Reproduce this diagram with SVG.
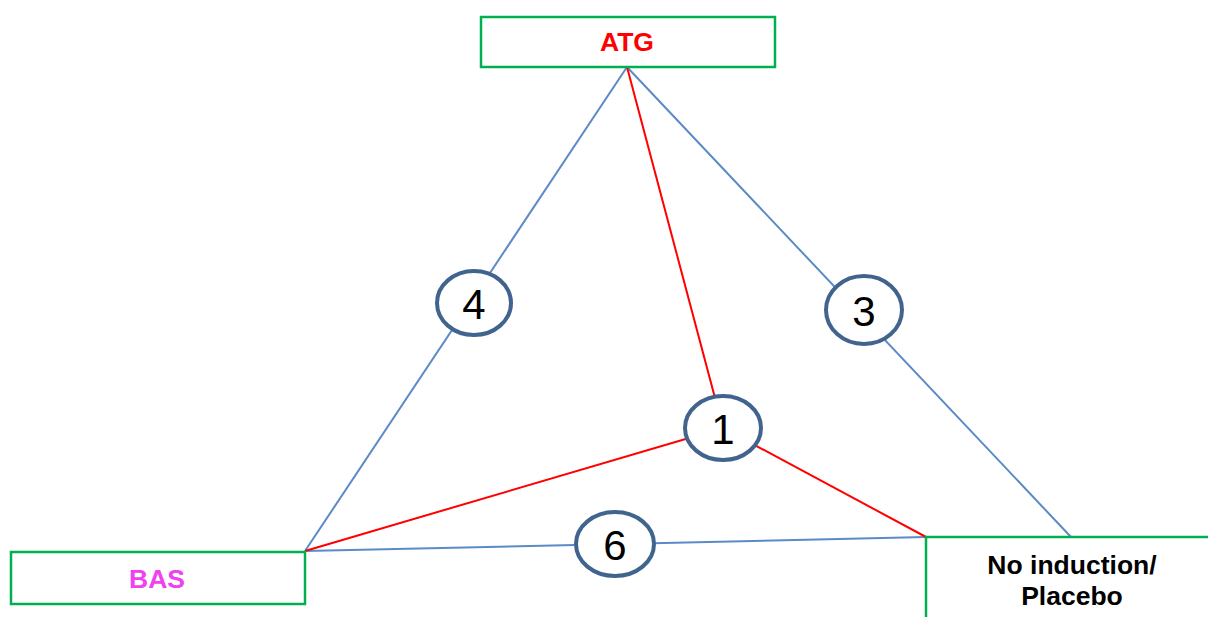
<svg xmlns="http://www.w3.org/2000/svg" width="1208" height="617" viewBox="0 0 1208 617">
<style>
.box{fill:#fff;stroke:#00B050;stroke-width:2.5}
.lbl{font-family:"Liberation Sans",Arial,sans-serif;font-weight:bold;font-size:26.5px;text-anchor:middle}
.blue{stroke:#5B8AC6;stroke-width:2;fill:none}
.red{stroke:#FF0000;stroke-width:2;fill:none}
.circ{fill:#fff;stroke:#41648F;stroke-width:4}
.num{font-family:"Liberation Sans",Arial,sans-serif;font-size:42px;text-anchor:middle;fill:#000}
</style>
<rect width="1208" height="617" fill="#fff"/>
<g id="connectors">
<line class="blue" x1="627" y1="67" x2="305" y2="551"/>
<line class="blue" x1="627" y1="67" x2="1071" y2="537"/>
<line class="blue" x1="305" y1="551" x2="926" y2="537"/>
<line class="red" x1="627" y1="67" x2="723" y2="428"/>
<line class="red" x1="305" y1="551" x2="723" y2="428"/>
<line class="red" x1="926" y1="537" x2="723" y2="428"/>
</g>
<g id="node-atg">
<rect class="box" x="481" y="17" width="294" height="50"/>
<text class="lbl" x="627" y="51" fill="#FF0000">ATG</text>
</g>
<g id="node-bas">
<rect class="box" x="11" y="552" width="294" height="52"/>
<text class="lbl" x="157" y="588" fill="#F040F0">BAS</text>
</g>
<g id="node-noind">
<path class="box" d="M926,617 V537 H1208"/>
<text class="lbl" x="1072" y="574" fill="#000">No induction/</text>
<text class="lbl" x="1072" y="605" fill="#000">Placebo</text>
</g>
<g id="label-4">
<ellipse class="circ" cx="474" cy="303" rx="37" ry="32"/>
<text class="num" x="474" y="319">4</text>
</g>
<g id="label-3">
<ellipse class="circ" cx="864" cy="310" rx="38" ry="34"/>
<text class="num" x="864" y="326">3</text>
</g>
<g id="label-1">
<ellipse class="circ" cx="723" cy="428" rx="38" ry="32"/>
<text class="num" x="723" y="444">1</text>
</g>
<g id="label-6">
<ellipse class="circ" cx="615" cy="544" rx="39" ry="32"/>
<text class="num" x="615" y="560">6</text>
</g>
</svg>
